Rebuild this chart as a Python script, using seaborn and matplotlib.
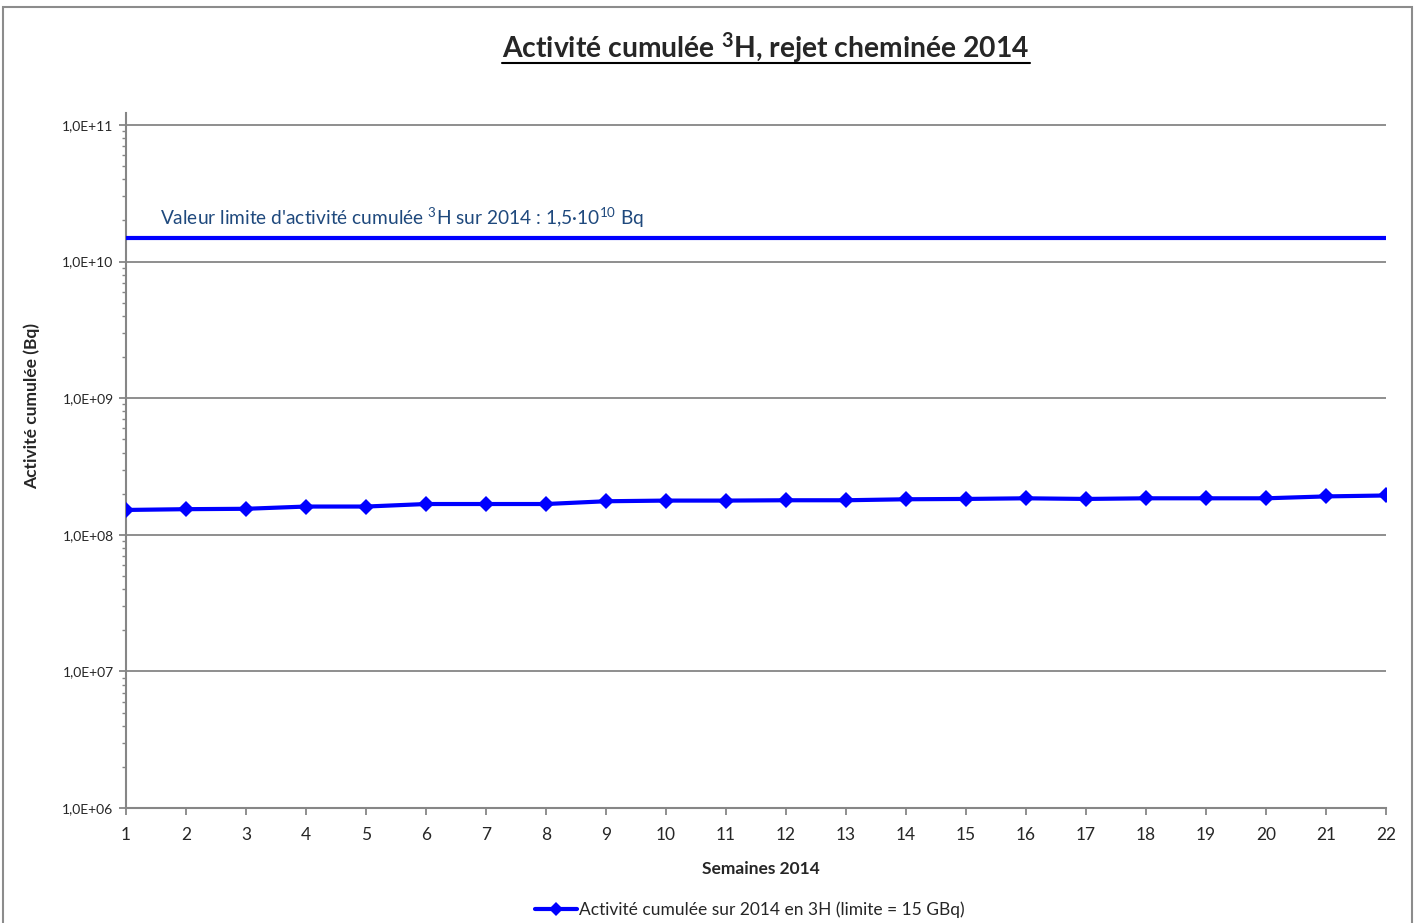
import numpy as np
import pandas as pd
import matplotlib
matplotlib.use("Agg")
import matplotlib.pyplot as plt
import seaborn as sns
from matplotlib.patches import Rectangle
from matplotlib.lines import Line2D
from matplotlib.ticker import LogLocator, NullFormatter

# Données
semaines = list(range(1, 23))
activite_cumulee = [1.52e8, 1.54e8, 1.55e8, 1.61e8, 1.61e8, 1.68e8, 1.68e8, 1.68e8,
                    1.76e8, 1.78e8, 1.78e8, 1.79e8, 1.79e8, 1.82e8, 1.83e8, 1.85e8,
                    1.83e8, 1.85e8, 1.85e8, 1.85e8, 1.91e8, 1.94e8]
valeur_limite = 1.5e10
y_ticks = [1e6, 1e7, 1e8, 1e9, 1e10, 1e11]
y_labels = ['1,0E+06', '1,0E+07', '1,0E+08', '1,0E+09', '1,0E+10', '1,0E+11']

df = pd.DataFrame({'Semaine': semaines, 'Activite': activite_cumulee})

sns.set_style('white')
plt.rcParams['font.family'] = ['Lato', 'DejaVu Sans']
plt.rcParams['mathtext.fontset'] = 'custom'
plt.rcParams['mathtext.rm'] = 'Lato'
plt.rcParams['mathtext.it'] = 'Lato:italic'
plt.rcParams['mathtext.bf'] = 'Lato:weight=bold'
plt.rcParams['mathtext.default'] = 'regular'

GRIS = '#868686'
BLEU = '#0000FF'

fig = plt.figure(figsize=(14.15, 9.23), dpi=100)
ax = fig.add_axes([126 / 1415, 1 - 808 / 923, 1260 / 1415, (808 - 113) / 923])

# cadre du graphique (style Excel)
fig.add_artist(Rectangle((3 / 1415, -0.02), 1409 / 1415, 1 - 7 / 923 + 0.02,
                         transform=fig.transFigure, fill=False, edgecolor='#8c8c8c', lw=1.5))

ax.axhline(valeur_limite, color=BLEU, lw=3, zorder=3)
sns.lineplot(data=df, x='Semaine', y='Activite', ax=ax, color=BLEU, lw=3,
             marker='D', markersize=8, markeredgewidth=0, legend=False, zorder=4)

ax.set_yscale('log')
ax.set_ylim(1e6, 1.224e11)
ax.set_xlim(1, 22)

ax.set_yticks(y_ticks)
ax.set_yticklabels(y_labels)
ax.yaxis.set_minor_locator(LogLocator(base=10, subs=np.arange(2, 10)))
ax.yaxis.set_minor_formatter(NullFormatter())
ax.set_xticks(semaines)
ax.set_xticklabels([str(s) for s in semaines])

for y in y_ticks:
    ax.axhline(y, color=GRIS, lw=1.3, zorder=1)

for s in ['top', 'right']:
    ax.spines[s].set_visible(False)
for s in ['left', 'bottom']:
    ax.spines[s].set_color(GRIS)
    ax.spines[s].set_linewidth(1.5)

ax.tick_params(axis='y', which='major', direction='out', length=5, width=1.3, color=GRIS,
               labelsize=10, pad=4, left=True)
ax.tick_params(axis='y', which='minor', direction='out', length=3, width=1, color=GRIS, left=True)
ax.tick_params(axis='x', which='major', direction='out', length=5, width=1.3, color=GRIS,
               labelsize=12.5, pad=8.5, bottom=True)

ax.set_xlabel('Semaines 2014', fontsize=12.5, fontweight='bold')
ax.set_ylabel('Activité cumulée (Bq)', fontsize=12.5, fontweight='bold')
ax.xaxis.set_label_coords(0.504, -0.076)
ax.yaxis.set_label_coords(-0.068, 0.578)

fig.text(160 / 1415, 1 - 218 / 923,
         r"Valeur limite d'activité cumulée $^{3}$H sur 2014 : 1,5·10$^{10}$ Bq",
         fontsize=13.8, color='#1F497D', va='center', ha='left')

titre = fig.text(766 / 1415, 1 - 48 / 923, r'Activité cumulée $^{\mathbf{3}}$H, rejet cheminée 2014',
                 fontsize=20.3, fontweight='bold', ha='center', va='center')

leg_handle = Line2D([], [], color=BLEU, lw=3, marker='D', markersize=7, markeredgewidth=0)
fig.legend([leg_handle], ['Activité cumulée sur 2014 en 3H (limite = 15 GBq)'],
           loc='center', bbox_to_anchor=(750 / 1415, 1 - 910 / 923), frameon=False,
           fontsize=12.5, handlelength=2.4, handletextpad=0.1)

# soulignement du titre
fig.canvas.draw()
bb = titre.get_window_extent().transformed(fig.transFigure.inverted())
fig.add_artist(Line2D([bb.x0, bb.x1], [1 - 63 / 923, 1 - 63 / 923],
                      transform=fig.transFigure, color='black', lw=1.5))

fig.savefig('out.png', dpi=100)
